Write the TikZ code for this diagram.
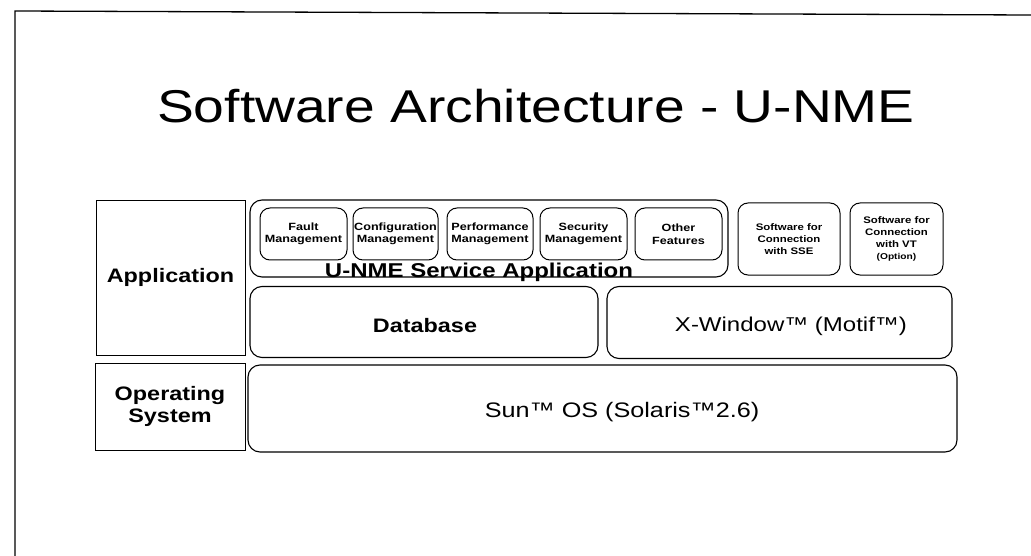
\documentclass[tikz,border=0pt]{standalone}
\usepackage{fontspec}
\setmainfont{Liberation Sans}[FakeStretch=1.2]
\usetikzlibrary{backgrounds}

\begin{document}
\begin{tikzpicture}[x=1pt,y=1pt,yscale=-1,xscale=1,
  layerbox/.style={draw,line width=0.9,inner sep=0,align=center},
  blk/.style={draw,line width=1.1,rounded corners=12,inner sep=0,align=center},
  subblk/.style={draw,line width=1.0,rounded corners=10,inner sep=0,align=center,
    font=\bfseries\fontsize{10.5}{12.5}\selectfont},
  bigtxt/.style={font=\bfseries\fontsize{19.5}{22}\selectfont},
  plaintxt/.style={font=\fontsize{20}{24}\selectfont}]
%set diagram size to the page
\useasboundingbox (0,0) rectangle (1031,556);

%Frame
\draw [line width=1.3] (15,556) -- (15,11) -- (1031,15);

%Title
\node (title) at (536,106) {\fontsize{46}{50}\selectfont Software Architecture - U-NME};

%Layer names
\node [layerbox,bigtxt,minimum width=149,minimum height=155] (app) at (170.5,277.5) {Application};
\node [layerbox,bigtxt,minimum width=150,minimum height=87] (os) at (170,406.5) {Operating\\System};

%U-NME Service Application
\node [blk,minimum width=478,minimum height=77] (svc) at (489,238.5) {};
\node [font=\bfseries\fontsize{20}{22}\selectfont] (svclbl) at (479,272) {U-NME Service Application};
\node [subblk,minimum width=87,minimum height=52] (fault) at (303.5,234) {Fault\\Management};
\node [subblk,minimum width=85,minimum height=52] (conf) at (395.5,234) {Configuration\\Management};
\node [subblk,minimum width=86,minimum height=52] (perf) at (490,234) {Performance\\Management};
\node [subblk,minimum width=87,minimum height=52] (sec) at (583.5,234) {Security\\Management};
\node [subblk,minimum width=87,minimum height=52] (other) at (678.5,234) {Other\\Features};

%Connection software
\node [subblk,font=\bfseries\fontsize{9.5}{12}\selectfont,minimum width=102,minimum height=72] (sse) at (789,239) {Software for\\Connection\\with SSE};
\node [subblk,font=\bfseries\fontsize{9.5}{12}\selectfont,minimum width=93,minimum height=72] (vt) at (896.5,239) {Software for\\Connection\\with VT\\{\fontsize{8.5}{12}\selectfont (Option)}};

%Database / X-Window
\node [blk,minimum width=348,minimum height=71] (db) at (424,322) {};
\node [bigtxt] (dblbl) at (425,326) {Database};
\node [blk,minimum width=345,minimum height=72] (xw) at (779.5,322.5) {};
\node [plaintxt] (xwlbl) at (791,326) {X-Window™ (Motif™)};

%Sun OS
\node [blk,minimum width=709,minimum height=87] (sun) at (602.5,408.5) {};
\node [font=\fontsize{21}{24}\selectfont] (sunlbl) at (622,412) {Sun™ OS (Solaris™2.6)};

\end{tikzpicture}
\end{document}
